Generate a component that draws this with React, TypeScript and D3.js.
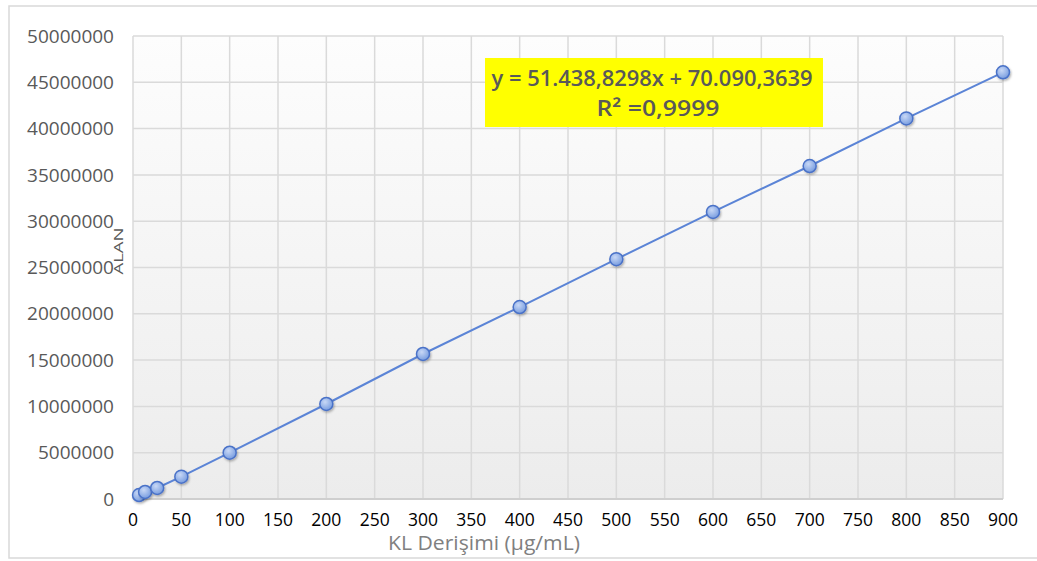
import React from "react";
import * as d3 from "d3";

const concentrations = [6.25, 12.5, 25, 50, 100, 200, 300, 400, 500, 600, 700, 800, 900];
const areas = [430000, 760000, 1190000, 2410000, 5000000, 10260000, 15660000, 20730000, 25900000, 31000000, 35960000, 41100000, 46080000];
const xTicks = d3.range(0, 901, 50);
const yTicks = d3.range(0, 50000001, 5000000);
const equationLine1 = "y = 51.438,8298x + 70.090,3639";
const equationLine2 = "R² =0,9999";
const xTitle = "KL Derişimi (µg/mL)";
const yTitle = "ALAN";

export default function App() {
  const W = 1037, H = 561;
  const left = 133, right = 1003, top = 36, bottom = 499;
  const x = d3.scaleLinear().domain([0, 900]).range([left, right]);
  const y = d3.scaleLinear().domain([0, 50000000]).range([bottom, top]);
  const pts = concentrations.map((c, i) => [c, areas[i]] as [number, number]);
  const line = d3.line<[number, number]>().x(d => x(d[0])).y(d => y(d[1]));
  const font = "'Open Sans', 'DejaVu Sans', sans-serif";

  return (
    <svg width={W} height={H} style={{ position: "absolute", left: 0, top: 0, background: "#fff" }}>
      <defs>
        <linearGradient id="bg" x1="0" y1="0" x2="0" y2="1">
          <stop offset="0" stopColor="#fdfdfd" />
          <stop offset="1" stopColor="#ececec" />
        </linearGradient>
        <radialGradient id="mk" cx="0.4" cy="0.35" r="0.7">
          <stop offset="0" stopColor="#c8d8f6" />
          <stop offset="1" stopColor="#7399de" />
        </radialGradient>
        <filter id="sh" x="-50%" y="-50%" width="200%" height="200%">
          <feDropShadow dx="1" dy="1.5" stdDeviation="1" floodColor="#000" floodOpacity="0.3" />
        </filter>
      </defs>
      <rect x={9} y={6} width={W} height={552} fill="#fff" stroke="#d9d9d9" strokeWidth={1.5} />
      <rect x={left} y={top} width={right - left} height={bottom - top} fill="url(#bg)" />
      {xTicks.map(t => (
        <line key={"vx" + t} x1={x(t)} x2={x(t)} y1={top} y2={bottom} stroke="#dadada" strokeWidth={1.5} />
      ))}
      {yTicks.map(t => (
        <line key={"hy" + t} x1={left} x2={right} y1={y(t)} y2={y(t)} stroke="#dadada" strokeWidth={1.5} />
      ))}
      <line x1={left} x2={right} y1={bottom} y2={bottom} stroke="#cfcfcf" strokeWidth={2} />
      {yTicks.map(t => (
        <text key={"ly" + t} x={114} y={y(t)} dy="0.35em" textAnchor="end" fontFamily={font} fontSize={19} fill="#595959">
          {t}
        </text>
      ))}
      {xTicks.map(t => (
        <text key={"lx" + t} x={x(t)} y={526} textAnchor="middle" fontFamily={font} fontSize={17.5} fill="#000">
          {t}
        </text>
      ))}
      <text x={484} y={550} textAnchor="middle" fontFamily={font} fontSize={20} fill="#808080"
        textLength={192} lengthAdjust="spacingAndGlyphs">{xTitle}</text>
      <text transform={`translate(123,251) rotate(-90)`} textAnchor="middle" fontFamily={font} fontSize={12}
        fill="#595959" textLength={47} lengthAdjust="spacingAndGlyphs">{yTitle}</text>
      <path d={line(pts) || ""} fill="none" stroke="#5b84d6" strokeWidth={2} />
      {pts.map((p, i) => (
        <circle key={"p" + i} cx={x(p[0])} cy={y(p[1])} r={6.5} fill="url(#mk)" stroke="#4a72c8" strokeWidth={1.5} filter="url(#sh)" />
      ))}
      <rect x={485} y={58} width={338} height={69} fill="#ffff00" />
      <text x={652} y={86} textAnchor="middle" fontFamily={font} fontSize={22} fontWeight={600} fill="#595959"
        textLength={321} lengthAdjust="spacingAndGlyphs">{equationLine1}</text>
      <text x={658} y={116} textAnchor="middle" fontFamily={font} fontSize={22} fontWeight={600} fill="#595959"
        textLength={123} lengthAdjust="spacingAndGlyphs">{equationLine2}</text>
    </svg>
  );
}
